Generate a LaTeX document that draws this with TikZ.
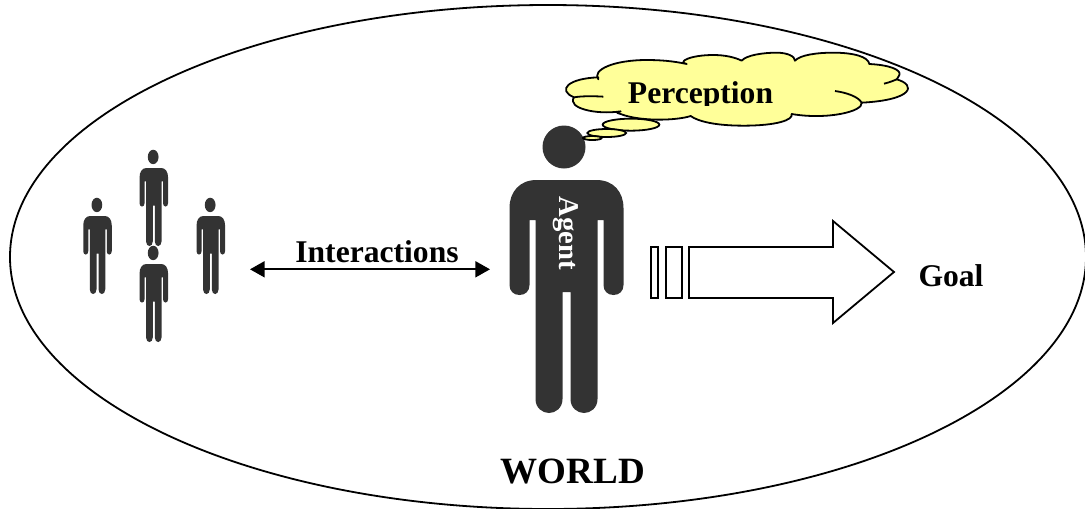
\documentclass[tikz,border=0pt]{standalone}
\usepackage{fontspec}
\setmainfont{Liberation Serif}
\usetikzlibrary{arrows.meta}
\definecolor{figgray}{HTML}{333333}
\definecolor{cloudyellow}{HTML}{FFFF99}
\tikzset{
	outline/.style={draw=black,line width=1.35pt},
	label/.style={font=\fontsize{23.7}{26}\selectfont\bfseries,inner sep=0pt},
	person/.pic={
		\fill[figgray] (-2.5,-33) ellipse [x radius=21.5,y radius=21.5];
		\fill[figgray] (-30,0) -- (30,0) .. controls (47,0) and (57,12) .. (57,28)
			-- (57,105) .. controls (57,111) and (53,115) .. (47,115)
			.. controls (41,115) and (37,111) .. (37,105) -- (37,40) -- (31,40)
			-- (31,219) .. controls (31,228) and (24,233) .. (17.5,233)
			.. controls (11,233) and (4,228) .. (4,219) -- (4,112) -- (-4,112)
			-- (-4,219) .. controls (-4,228) and (-11,233) .. (-17.5,233)
			.. controls (-24,233) and (-31,228) .. (-31,219) -- (-31,40) -- (-37,40)
			-- (-37,105) .. controls (-37,111) and (-41,115) .. (-47,115)
			.. controls (-53,115) and (-57,111) .. (-57,105) -- (-57,28)
			.. controls (-57,12) and (-47,0) .. (-30,0) -- cycle;
	}
}
\begin{document}
\begin{tikzpicture}[x=0.75pt,y=-0.75pt]
	\useasboundingbox (0,0) rectangle (1085,508);
	% world
	\draw[outline] (548,257) ellipse [x radius=538,y radius=252];
	% the others
	\foreach \x/\y in {97.5/216,153.8/168,210.8/216,153.8/264}
		\pic[xscale=.25,yscale=.335] at (\x,\y) {person};
	% agent
	\pic at (566.5,180) {person};
	\node[label,font=\fontsize{21.5}{23}\selectfont\bfseries,text=white,rotate=-90] (agent) at (566,233) {Agent};
	% thought cloud, in a finer grid
	\begin{scope}[shift={(500,40)},x=.25pt,y=-.25pt]
		\draw[outline,fill=cloudyellow,line join=round]
			(295,118) .. controls (275,90) and (340,60) .. (440,60)
			.. controls (480,60) and (520,63) .. (560,72)
			.. controls (530,66) and (570,45) .. (640,45)
			.. controls (675,45) and (705,52) .. (725,62)
			.. controls (740,45) and (790,38) .. (830,38)
			.. controls (860,38) and (885,48) .. (885,62)
			.. controls (900,45) and (950,38) .. (1000,38)
			.. controls (1060,38) and (1105,50) .. (1108,72)
			.. controls (1170,75) and (1205,90) .. (1198,105)
			.. controls (1195,112) and (1190,118) .. (1190,118)
			.. controls (1250,135) and (1240,180) .. (1085,188)
			.. controls (1090,215) and (980,240) .. (875,222)
			.. controls (880,240) and (830,257) .. (730,257)
			.. controls (650,257) and (595,245) .. (572,228)
			.. controls (530,242) and (420,245) .. (362,222)
			.. controls (345,218) and (350,216) .. (362,214)
			.. controls (290,225) and (200,205) .. (222,172)
			.. controls (170,150) and (205,115) .. (295,112)
			-- cycle;
		\draw[outline] (310,170) .. controls (280,168) and (245,168) .. (222,172);
		\draw[outline] (1005,153) .. controls (1040,158) and (1075,170) .. (1085,188);
		\draw[outline] (1152,131) .. controls (1170,127) and (1185,120) .. (1190,118);
		\draw[outline,fill=cloudyellow] (393,254) ellipse [x radius=85,y radius=18];
		\draw[outline,fill=cloudyellow] (320,279) ellipse [x radius=58,y radius=12];
		\draw[outline,fill=cloudyellow] (277,294) ellipse [x radius=28,y radius=6];
	\end{scope}
	\begin{scope}
		\clip (600,60) rectangle (800,105);
		\node[label,anchor=base] (perception) at (700.5,103) {Perception};
	\end{scope}
	% interactions
	\coordinate (intLeft) at (250,269.3);
	\coordinate (intRight) at (490,269.3);
	\draw[{Triangle[length=11pt,width=12pt]}-{Triangle[length=11pt,width=12pt]},line width=1.5pt] (intLeft) -- (intRight);
	\node[label] (interactions) at (377,252) {Interactions};
	% goal arrow
	\draw[outline] (651,247) rectangle (658,298);
	\draw[outline] (666,247) rectangle (682,298);
	\draw[outline,line join=miter] (689,247) -- (833,247) -- (833,221) -- (894,272) -- (833,323) -- (833,298) -- (689,298) -- cycle;
	\node[label] (goal) at (951,276) {Goal};
	\node[label,font=\fontsize{27.8}{30}\selectfont\bfseries] (world) at (573,471) {WORLD};
\end{tikzpicture}
\end{document}
